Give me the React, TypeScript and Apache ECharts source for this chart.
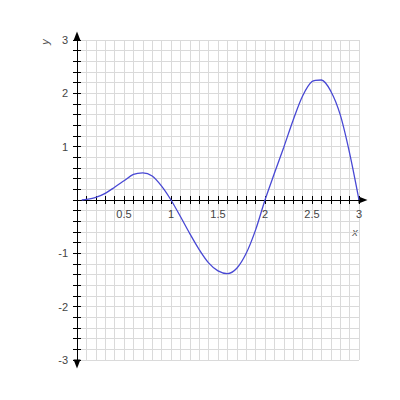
import { useEffect, useRef } from "react"
import * as echarts from "echarts"

// curve samples
const xs = [0.05, 0.1, 0.2, 0.3, 0.4, 0.5, 0.6, 0.7, 0.8, 0.9, 1.0, 1.1, 1.2, 1.3, 1.4, 1.5, 1.6, 1.7, 1.8, 1.9, 2.0, 2.1, 2.2, 2.3, 2.4, 2.5, 2.6, 2.7, 2.8, 2.9, 3.0]
const ys = [0, 0.01, 0.05, 0.125, 0.24, 0.36, 0.48, 0.51, 0.45, 0.26, 0, -0.31, -0.63, -0.93, -1.18, -1.33, -1.38, -1.28, -1.0, -0.56, 0, 0.5, 0.99, 1.5, 1.95, 2.22, 2.25, 2.04, 1.6, 0.88, 0]

const xRange = [0, 3]
const yRange = [-3, 3]
const xStep = 0.1
const yStep = 0.2

const labelColor = "#444"
const font = "'Liberation Sans', Arial, sans-serif"

const isMultiple = (v: number, m: number) => Math.abs(v / m - Math.round(v / m)) < 1e-6

export default function App() {
  const chartRef = useRef<HTMLDivElement>(null)

  useEffect(() => {
    if (!chartRef.current) return
    const chart = echarts.init(chartRef.current, undefined, { renderer: "svg" })

    const tickStyle = { show: true, length: 4, lineStyle: { color: "#000", width: 1 } }
    // grid is 320px tall, y = 0 sits in the middle
    const xAxisOffset = -160

    const option: echarts.EChartsOption = {
      animation: false,
      backgroundColor: "#fff",
      grid: { left: 77, right: 41, top: 40, bottom: 40 },
      xAxis: [
        {
          type: "value",
          min: xRange[0],
          max: xRange[1],
          interval: xStep,
          position: "bottom",
          offset: xAxisOffset,
          axisLine: {
            show: true,
            onZero: false,
            symbol: ["none", "triangle"],
            symbolSize: [7, 9],
            symbolOffset: [0, 4],
            lineStyle: { color: "#000", width: 1 },
          },
          axisTick: tickStyle,
          axisLabel: {
            margin: 8,
            color: labelColor,
            fontSize: 11,
            fontFamily: font,
            formatter: (v: number) => (v !== 0 && isMultiple(v, 0.5) ? String(Math.round(v * 10) / 10) : ""),
          },
          splitLine: { show: true, lineStyle: { color: "#dadada", width: 1 } },
        },
        {
          type: "value",
          min: xRange[0],
          max: xRange[1],
          interval: xStep,
          position: "bottom",
          offset: xAxisOffset,
          axisLine: { show: false, onZero: false },
          axisTick: { ...tickStyle, inside: true },
          axisLabel: { show: false },
          splitLine: { show: false },
        },
      ],
      yAxis: [
        {
          type: "value",
          min: yRange[0],
          max: yRange[1],
          interval: yStep,
          position: "left",
          axisLine: {
            show: true,
            onZero: false,
            symbol: ["triangle", "triangle"],
            symbolSize: [7, 9],
            symbolOffset: [-4, 4],
            lineStyle: { color: "#000", width: 1 },
          },
          axisTick: tickStyle,
          axisLabel: {
            margin: 9,
            color: labelColor,
            fontSize: 11,
            fontFamily: font,
            formatter: (v: number) => (v !== 0 && isMultiple(v, 1) ? String(Math.round(v)) : ""),
          },
          splitLine: { show: true, lineStyle: { color: "#dadada", width: 1 } },
        },
        {
          type: "value",
          min: yRange[0],
          max: yRange[1],
          interval: yStep,
          position: "left",
          axisLine: { show: false, onZero: false },
          axisTick: { ...tickStyle, inside: true },
          axisLabel: { show: false },
          splitLine: { show: false },
        },
      ],
      graphic: [
        {
          type: "text",
          x: 45,
          y: 42,
          rotation: Math.PI / 2,
          style: { text: "y", fill: "#555", font: `italic 11px ${font}`, align: "center", verticalAlign: "middle" },
        },
        {
          type: "text",
          x: 355,
          y: 232,
          style: { text: "x", fill: "#555", font: `italic 11px ${font}`, align: "center", verticalAlign: "middle" },
        },
      ],
      series: [
        {
          type: "line",
          xAxisIndex: 0,
          yAxisIndex: 0,
          data: xs.map((x, i) => [x, ys[i]]),
          smooth: 0.3,
          showSymbol: false,
          lineStyle: { color: "#4848d4", width: 1.3 },
          z: 5,
        },
      ],
    }

    chart.setOption(option)
    return () => chart.dispose()
  }, [])

  return <div ref={chartRef} style={{ position: "absolute", left: 0, top: 0, width: 400, height: 400 }} />
}
